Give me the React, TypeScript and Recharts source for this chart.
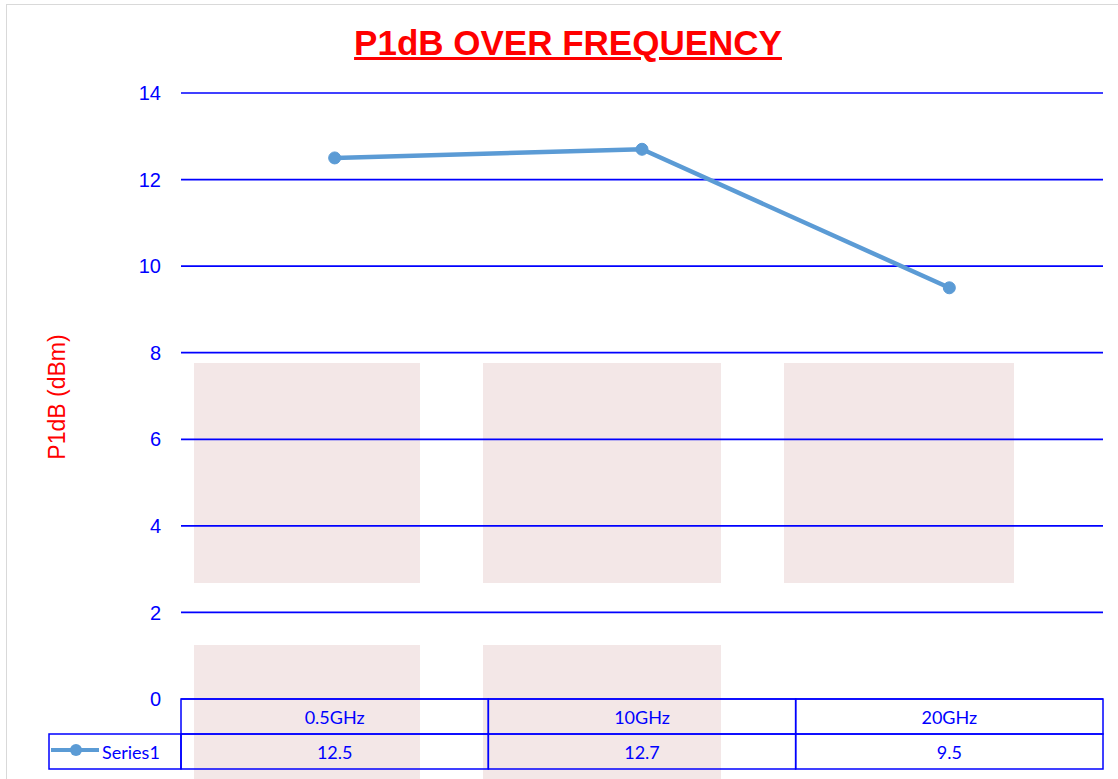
import React from "react";
import { LineChart, Line, XAxis, YAxis, CartesianGrid } from "recharts";

const categories = ["0.5GHz", "10GHz", "20GHz"];
const series1 = [12.5, 12.7, 9.5];
const yTicks = [0, 2, 4, 6, 8, 10, 12, 14];
const seriesName = "Series1";

const data = categories.map((freq, i) => ({ freq, series1: series1[i] }));

const W = 1118;
const H = 779;
const PLOT_LEFT = 181;
const PLOT_RIGHT = 1103;
const PLOT_TOP = 93;
const PLOT_BOTTOM = 699;
const ROW_H = 35;
const BAND = (PLOT_RIGHT - PLOT_LEFT) / categories.length;

const BLUE = "#0000ff";
const LINE_BLUE = "#5b9bd5";
const TABLE_FONT = "Lato, 'Open Sans', sans-serif";

// faint watermark blocks behind the plot
const watermark = [
  { left: 194, top: 363, width: 226, height: 220 },
  { left: 483, top: 363, width: 238, height: 220 },
  { left: 784, top: 363, width: 230, height: 220 },
  { left: 194, top: 645, width: 226, height: 140 },
  { left: 483, top: 645, width: 238, height: 140 },
];

const TableTick = (props: any) => {
  const { x, payload, index } = props;
  const left = x - BAND / 2;
  const r1 = PLOT_BOTTOM;
  const r2 = PLOT_BOTTOM + ROW_H;
  return (
    <g>
      <rect x={left} y={r1} width={BAND} height={ROW_H} fill="none" stroke={BLUE} strokeWidth={1.5} />
      <rect x={left} y={r2} width={BAND} height={ROW_H} fill="none" stroke={BLUE} strokeWidth={1.5} />
      <text x={x} y={r1 + ROW_H / 2} textAnchor="middle" dominantBaseline="central" fill={BLUE} fontSize={18} fontFamily={TABLE_FONT}>
        {payload.value}
      </text>
      <text x={x} y={r2 + ROW_H / 2} textAnchor="middle" dominantBaseline="central" fill={BLUE} fontSize={18} fontFamily={TABLE_FONT}>
        {series1[index]}
      </text>
      {index === 0 && (
        <g>
          <rect x={49} y={r2} width={PLOT_LEFT - 49} height={ROW_H} fill="none" stroke={BLUE} strokeWidth={1.5} />
          <line x1={51} x2={99} y1={r2 + 16} y2={r2 + 16} stroke={LINE_BLUE} strokeWidth={4} />
          <circle cx={76} cy={r2 + 16} r={6} fill={LINE_BLUE} />
          <text x={102} y={r2 + ROW_H / 2} dominantBaseline="central" fill={BLUE} fontSize={18} fontFamily={TABLE_FONT}>
            {seriesName}
          </text>
        </g>
      )}
    </g>
  );
};

export default function App() {
  return (
    <div style={{ position: "absolute", left: 0, top: 0, width: W, height: H, background: "#fff", overflow: "hidden" }}>
      <div style={{ position: "absolute", left: 6, top: 4, right: 0, bottom: 0, borderLeft: "1.5px solid #d9d9d9", borderTop: "1.5px solid #d9d9d9" }} />
      {watermark.map((b, i) => (
        <div key={i} style={{ position: "absolute", ...b, background: "#f3e7e7" }} />
      ))}
      <div
        style={{
          position: "absolute",
          left: 568,
          top: 25,
          transform: "translateX(-50%)",
          whiteSpace: "nowrap",
          fontFamily: "'Liberation Sans', Arial, sans-serif",
          fontWeight: 700,
          fontSize: 35,
          lineHeight: "35px",
          color: "#ff0000",
          textDecoration: "underline",
        }}
      >
        P1dB OVER FREQUENCY
      </div>
      <div
        style={{
          position: "absolute",
          left: 57,
          top: 397,
          transform: "translate(-50%, -50%) rotate(-90deg)",
          whiteSpace: "nowrap",
          fontFamily: "'Liberation Sans', Arial, sans-serif",
          fontSize: 23,
          color: "#ff0000",
        }}
      >
        P1dB (dBm)
      </div>
      <div style={{ position: "absolute", left: 0, top: 0 }}>
        <LineChart
          width={W}
          height={H}
          data={data}
          margin={{ top: PLOT_TOP, right: W - PLOT_RIGHT, bottom: 0, left: PLOT_LEFT - 60 }}
        >
          <CartesianGrid horizontal vertical={false} stroke={BLUE} strokeWidth={1.7} />
          <XAxis
            dataKey="freq"
            height={H - PLOT_BOTTOM}
            axisLine={false}
            tickLine={false}
            interval={0}
            padding={{ left: BAND / 2, right: BAND / 2 }}
            tick={TableTick}
          />
          <YAxis
            width={60}
            domain={[0, 14]}
            ticks={yTicks}
            axisLine={false}
            tickLine={false}
            tickMargin={14}
            tick={{ fill: BLUE, fontSize: 20, fontFamily: "'Liberation Sans', Arial, sans-serif" }}
          />
          <Line
            dataKey="series1"
            name={seriesName}
            stroke={LINE_BLUE}
            strokeWidth={4.5}
            dot={{ r: 6, fill: LINE_BLUE, stroke: LINE_BLUE, strokeWidth: 1 }}
            isAnimationActive={false}
          />
        </LineChart>
      </div>
    </div>
  );
}
